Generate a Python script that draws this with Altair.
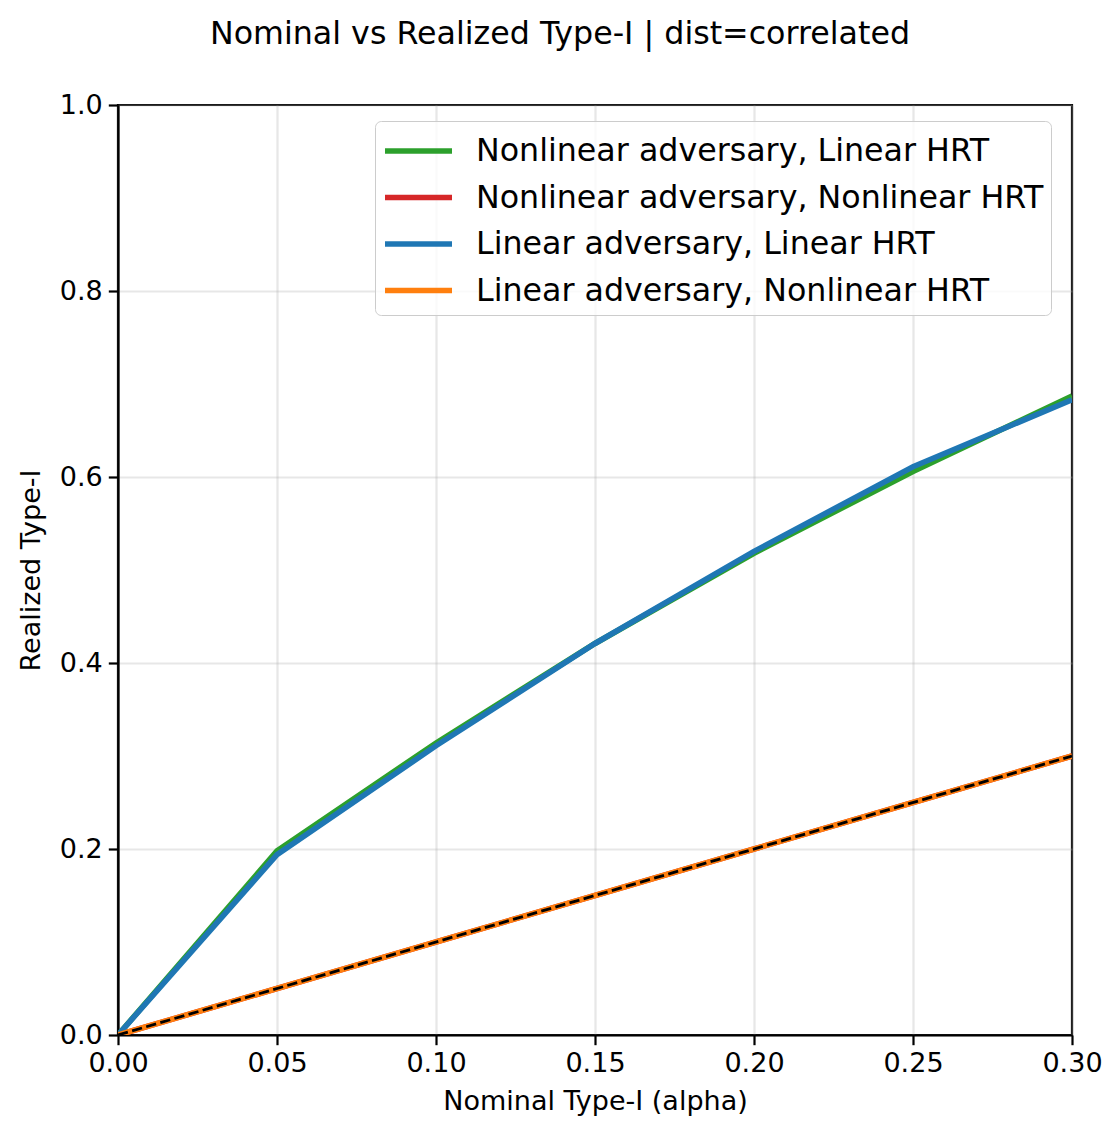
import altair as alt
import pandas as pd

alpha = [0.0, 0.05, 0.10, 0.15, 0.20, 0.25, 0.30]
nonlin_adv_lin_hrt = [0.0, 0.198, 0.314, 0.421, 0.518, 0.606, 0.687]
nonlin_adv_nonlin_hrt = [0.0, 0.05, 0.10, 0.15, 0.20, 0.25, 0.30]
lin_adv_lin_hrt = [0.0, 0.194, 0.311, 0.421, 0.520, 0.611, 0.683]
lin_adv_nonlin_hrt = [0.0, 0.05, 0.10, 0.15, 0.20, 0.25, 0.30]

series_names = [
    "Nonlinear adversary, Linear HRT",
    "Nonlinear adversary, Nonlinear HRT",
    "Linear adversary, Linear HRT",
    "Linear adversary, Nonlinear HRT",
]
series_vals = [nonlin_adv_lin_hrt, nonlin_adv_nonlin_hrt, lin_adv_lin_hrt, lin_adv_nonlin_hrt]
colors = ["#2ca02c", "#d62728", "#1f77b4", "#ff7f0e"]

ideal_x = [0.0, 0.30]
ideal_y = [0.0, 0.30]

rows = []
for i, (name, vals) in enumerate(zip(series_names, series_vals)):
    for a, v in zip(alpha, vals):
        rows.append({"alpha": a, "realized": v, "series": name, "order": i})
df = pd.DataFrame(rows)
ideal = pd.DataFrame({"alpha": ideal_x, "realized": ideal_y})

xscale = alt.Scale(domain=[0, 0.3], nice=False, zero=False)
yscale = alt.Scale(domain=[0, 1.0], nice=False)

xaxis = alt.Axis(values=alpha, format=".2f", title="Nominal Type-I (alpha)", labelFlush=False)
yaxis = alt.Axis(values=[0, 0.2, 0.4, 0.6, 0.8, 1.0], format=".1f", title="Realized Type-I", labelFlush=False)

lines = alt.Chart(df).mark_line(strokeWidth=5.6, clip=True).encode(
    x=alt.X("alpha:Q", scale=xscale, axis=xaxis),
    y=alt.Y("realized:Q", scale=yscale, axis=yaxis),
    color=alt.Color(
        "series:N",
        scale=alt.Scale(domain=series_names, range=colors),
        sort=series_names,
        legend=alt.Legend(
            title=None,
            orient="none",
            legendX=257,
            legendY=16,
            symbolType="M-1,0H2.35",
            symbolSize=1600,
            symbolStrokeWidth=5.6,
            symbolFillColor="transparent",
            labelFontSize=31.7,
            labelFont="DejaVu Sans",
            labelColor="#000000",
            labelOffset=48,
            rowPadding=6.5,
            padding=7,
            fillColor="rgba(255,255,255,0.8)",
            strokeColor="#cccccc",
            cornerRadius=6,
            labelLimit=1000,
        ),
    ),
    order=alt.Order("order:Q"),
    detail="series:N",
)

diag = alt.Chart(ideal).mark_line(
    color="black", strokeWidth=2.8, strokeDash=[10.3, 4.4], clip=True
).encode(
    x=alt.X("alpha:Q", scale=xscale),
    y=alt.Y("realized:Q", scale=yscale),
)

chart = alt.layer(lines, diag).properties(
    width=954,
    height=930,
    title=alt.TitleParams(
        "Nominal vs Realized Type-I | dist=correlated",
        fontSize=31.7,
        font="DejaVu Sans",
        fontWeight="normal",
        color="#000000",
        anchor="middle",
        dx=-35,
        offset=40,
    ),
    autosize=alt.AutoSizeParams(type="none"),
    padding={"left": 110, "top": 97, "right": 40, "bottom": 93},
).configure_view(
    stroke="#000000", strokeWidth=2.2
).configure_axis(
    labelFont="DejaVu Sans",
    labelFontSize=27,
    labelColor="#000000",
    titleFont="DejaVu Sans",
    titleFontSize=27,
    titleFontWeight="normal",
    titleColor="#000000",
    tickColor="#000000",
    tickSize=9.7,
    tickWidth=2.2,
    domainColor="#000000",
    domainWidth=2.2,
    gridColor="#b0b0b0",
    gridOpacity=0.3,
    gridWidth=2.2,
    labelPadding=6,
).configure_axisX(
    titlePadding=12,
).configure_axisY(
    titlePadding=14,
)

chart.save("out.html", embed_options={"renderer": "svg", "actions": False})
